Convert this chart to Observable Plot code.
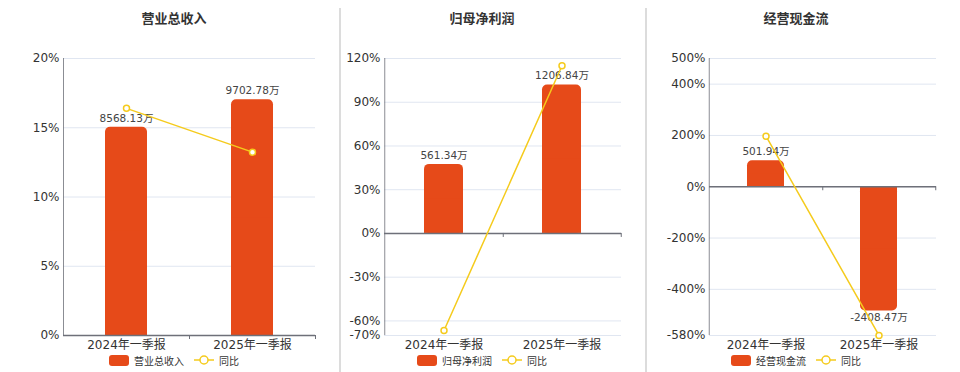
<!DOCTYPE html>
<html><head><meta charset="utf-8">
<script src="https://cdn.jsdelivr.net/npm/d3@7"></script>
<script src="https://cdn.jsdelivr.net/npm/@observablehq/plot@0.6"></script>
<style>
body{margin:0;background:#fff;}
#root{position:relative;width:960px;height:372px;overflow:hidden;font-family:"DejaVu Sans","Noto Sans CJK SC",sans-serif;}
.panel{position:absolute;top:0;height:372px;}
.title{position:absolute;top:9px;font-size:13px;font-weight:bold;color:#333;transform:translateX(-50%);white-space:nowrap;font-family:"Noto Sans CJK SC",sans-serif;line-height:18px;}
.legend{position:absolute;top:354px;transform:translateX(-50%);white-space:nowrap;font-size:10px;color:#333;display:flex;align-items:center;height:12px;font-family:"Noto Sans CJK SC",sans-serif;}
.legend .sw{display:inline-block;width:20px;height:11px;border-radius:3px;background:#E64A19;margin-right:5px;}
.legend svg{margin-left:10px;margin-right:5px;}
.divider{position:absolute;top:8px;bottom:0;width:1.5px;background:#dcdcdc;}
</style>
</head><body>
<div id="root"></div>
<script>
const cats = ["2024年一季报", "2025年一季报"];

const titles = ["营业总收入", "归母净利润", "经营现金流"];

const revenue = [8568.13, 9702.78];
const revenueYoY = [16.4, 13.24];
const revenueTicks = [0, 5, 10, 15, 20];
const revenueBarAxis = [0, 11400];

const profit = [561.34, 1206.84];
const profitYoY = [-66.6, 114.99];
const profitTicks = [-70, -60, -30, 0, 30, 60, 90, 120];
const profitBarAxis = [-829, 1422];

const cash = [501.94, -2408.47];
const cashYoY = [197, -579.8];
const cashTicks = [-580, -400, -200, 0, 200, 400, 500];
const cashBarAxis = [-2883, 2485];

const BAR = "#E64A19", LINE = "#F5CB1D", AXIS = "#6E7079", GRID = "#E0E6F1";
const root = document.getElementById("root");

function makePanel(cfg) {
  const div = document.createElement("div");
  div.className = "panel";
  div.style.left = cfg.left + "px";
  div.style.width = cfg.width + "px";
  root.appendChild(div);

  const pctDomain = [d3.min(cfg.ticks), d3.max(cfg.ticks)];
  const toPct = d3.scaleLinear().domain(cfg.barAxis).range(pctDomain);
  const data = cats.map((c, i) => ({cat: c, v: cfg.values[i], b: toPct(cfg.values[i]), yoy: cfg.yoy[i]}));
  const marginTop = 58, marginBottom = 37, height = 372;
  const inner = cfg.width - cfg.marginLeft - cfg.marginRight;
  const step = inner / 2;
  const tickLen = (pctDomain[1] - pctDomain[0]) * 4 / (height - marginTop - marginBottom);

  const svg = Plot.plot({
    width: cfg.width, height, marginTop, marginBottom,
    marginLeft: cfg.marginLeft, marginRight: cfg.marginRight,
    style: {fontFamily: '"DejaVu Sans","Noto Sans CJK SC",sans-serif', fontSize: "12px", color: "#333", background: "transparent", overflow: "visible"},
    x: {domain: cats, paddingInner: 0.67, paddingOuter: 0.335, label: null},
    y: {domain: pctDomain, label: null},
    marks: [
      Plot.gridY(cfg.ticks, {stroke: GRID, strokeOpacity: 1}),
      Plot.axisY(cfg.ticks, {tickSize: 0, tickPadding: 4, tickFormat: d => d + "%", fontSize: 12, fill: "#333"}),
      Plot.axisX({tickSize: 0, tickPadding: 5, fontSize: 12, fill: "#333"}),
      Plot.ruleX([cats[0]], {dx: -step / 2, stroke: AXIS, strokeOpacity: 0.8}),
      Plot.barY(data, {x: "cat", y: "b", fill: BAR, rx: 5}),
      Plot.barY(data, {x: "cat", y: d => d.b / 2, fill: BAR}),
      Plot.ruleY([0], {stroke: AXIS, strokeWidth: 1.5}),
      Plot.ruleX(cats, {dx: step / 2, y1: 0, y2: -tickLen, stroke: AXIS}),
      Plot.text(data.filter(d => d.v >= 0), {x: "cat", y: "b", text: d => d.v.toFixed(2) + "万", dy: -9, fontSize: 10.5, fill: "#444"}),
      Plot.text(data.filter(d => d.v < 0), {x: "cat", y: "b", text: d => d.v.toFixed(2) + "万", dy: 7, fontSize: 10.5, fill: "#444"}),
      Plot.line(data, {x: "cat", y: "yoy", stroke: LINE, strokeWidth: 1.5}),
      Plot.dot(data, {x: "cat", y: "yoy", r: 3, fill: "white", stroke: LINE, strokeWidth: 1.5})
    ]
  });
  svg.style.position = "absolute";
  svg.style.left = "0px";
  svg.style.top = "0px";
  div.appendChild(svg);

  const t = document.createElement("div");
  t.className = "title";
  t.style.left = (cfg.titleCenter - cfg.left) + "px";
  t.textContent = cfg.title;
  div.appendChild(t);

  const lg = document.createElement("div");
  lg.className = "legend";
  lg.style.left = (cfg.titleCenter - cfg.left) + "px";
  lg.innerHTML = `<span class="sw"></span><span>${cfg.title}</span>` +
    `<svg width="20" height="10"><line x1="0" y1="5" x2="20" y2="5" stroke="${LINE}" stroke-width="1.5"/><circle cx="10" cy="5" r="4" fill="white" stroke="${LINE}" stroke-width="1.5"/></svg><span>同比</span>`;
  div.appendChild(lg);
}

makePanel({left: 0, width: 330, marginLeft: 63, marginRight: 15, values: revenue, yoy: revenueYoY, ticks: revenueTicks, barAxis: revenueBarAxis, title: titles[0], titleCenter: 174});
makePanel({left: 340, width: 305, marginLeft: 44, marginRight: 24, values: profit, yoy: profitYoY, ticks: profitTicks, barAxis: profitBarAxis, title: titles[1], titleCenter: 482});
makePanel({left: 646, width: 314, marginLeft: 63, marginRight: 24, values: cash, yoy: cashYoY, ticks: cashTicks, barAxis: cashBarAxis, title: titles[2], titleCenter: 796});

for (const x of [339, 645]) {
  const d = document.createElement("div");
  d.className = "divider";
  d.style.left = x + "px";
  root.appendChild(d);
}
</script>
</body></html>
